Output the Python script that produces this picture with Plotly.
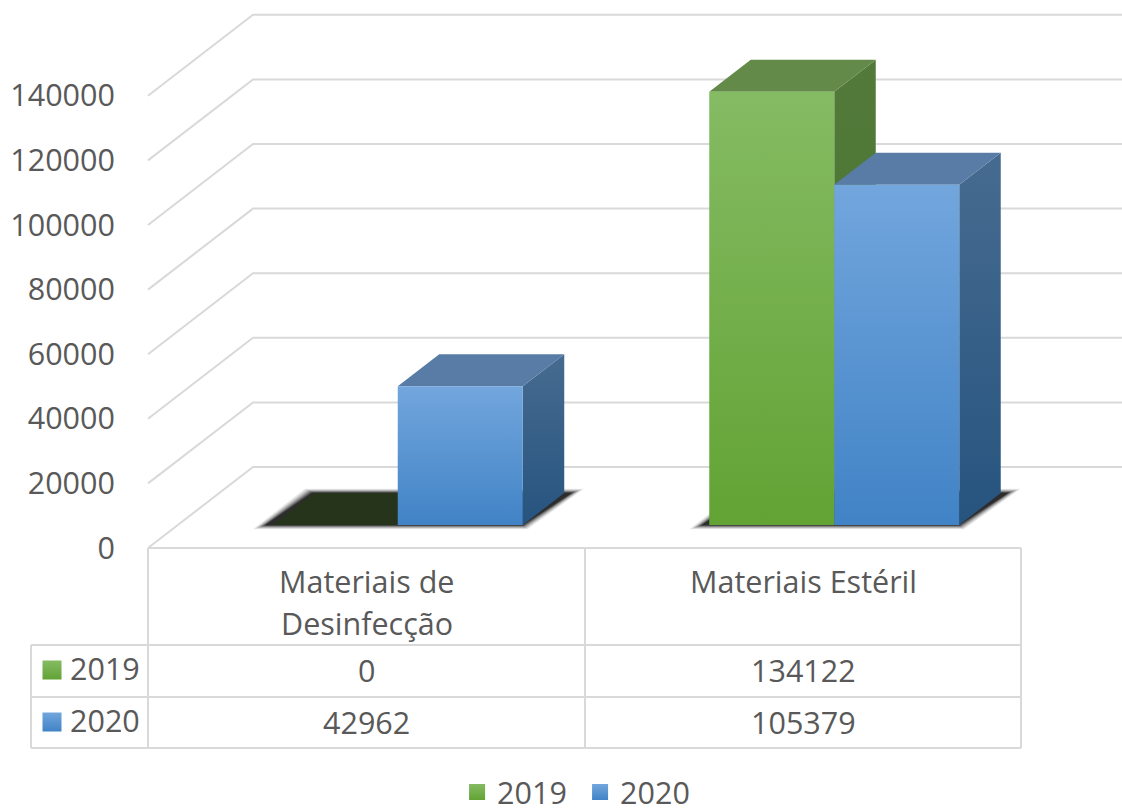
import plotly.graph_objects as go

categories = [["Materiais de", "Desinfecção"], ["Materiais Estéril"]]
series_names = ["2019", "2020"]
values_2019 = [0, 134122]
values_2020 = [42962, 105379]
y_ticks = [0, 20000, 40000, 60000, 80000, 100000, 120000, 140000]

W, H = 1122, 812
PX_X0, PX_CAT = 148.0, 436.5      # pixel of category 0 left edge, pixels per category
PX_Y0, PX_PER_UNIT = 548.0, 64.6 / 20000
FONT = "Open Sans"
TXT = "#595959"
GRID = "#d9d9d9"
FS = 30.5

def xpx(p):
    return (p - PX_X0) / PX_CAT
def ypx(p):
    return (PX_Y0 - p) / PX_PER_UNIT

DEPTH_X = 105 / PX_CAT
DEPTH_Y = 81 / PX_PER_UNIT
BAR_W = 125 / PX_CAT
GROUP_LEFT = 0.2175
D_FRONT, D_BACK = 23 / 81, 55 / 81

def proj(x, v, d):
    return x + d * DEPTH_X, v + d * DEPTH_Y

fig = go.Figure()

def poly(points, top, bottom=None, opacity=None):
    xs = [p[0] for p in points] + [points[0][0]]
    ys = [p[1] for p in points] + [points[0][1]]
    kw = {}
    if bottom is None:
        kw["fillcolor"] = top
    else:
        kw["fillgradient"] = dict(type="vertical", colorscale=[[0, bottom], [1, top]])
    fig.add_trace(go.Scatter(x=xs, y=ys, mode="lines", fill="toself", line=dict(width=0),
                             showlegend=False, hoverinfo="skip", opacity=opacity, **kw))

# walls and floor gridlines
for v in y_ticks:
    bx, by = proj(0, v, 1)
    fig.add_trace(go.Scatter(x=[0, bx, xpx(W)], y=[v, by, by], mode="lines",
                             line=dict(color=GRID, width=2), showlegend=False, hoverinfo="skip"))

# blurred floor shadow under each category's bars
for c in range(2):
    left = c + GROUP_LEFT
    right = left + 2 * BAR_W
    off = 8 / PX_CAT
    for grow, alpha in [(12, 0.07), (10, 0.09), (8, 0.12), (6, 0.16), (4, 0.22), (2, 0.32), (0, 0.45)]:
        g = grow / PX_CAT
        gv = (grow + 1) / PX_PER_UNIT * 0.33
        a = proj(left - off - g, -gv, D_FRONT)
        b = proj(right + g * 0.4, -gv, D_FRONT)
        cc = proj(right + off + g, gv, D_BACK)
        dd = proj(left - off * 0.3 - g * 0.6, gv, D_BACK)
        poly([a, b, cc, dd], "rgba(0,0,0,%g)" % alpha)

STYLE = {
    "2019": dict(front=("#85bb63", "#62a334"), top="#638a48", side=("#537a3a", "#44702a")),
    "2020": dict(front=("#72a6dd", "#4183c6"), top="#587ca6", side=("#476b90", "#26547f")),
}

def bar(x0, v, st):
    x1 = x0 + BAR_W
    f = [proj(x0, 0, D_FRONT), proj(x1, 0, D_FRONT), proj(x1, v, D_FRONT), proj(x0, v, D_FRONT)]
    t = [proj(x0, v, D_FRONT), proj(x1, v, D_FRONT), proj(x1, v, D_BACK), proj(x0, v, D_BACK)]
    s = [proj(x1, 0, D_FRONT), proj(x1, 0, D_BACK), proj(x1, v, D_BACK), proj(x1, v, D_FRONT)]
    if v == 0:
        poly(t, "#25341a")
        return
    poly(s, st["side"][0], st["side"][1])
    poly(t, st["top"])
    poly(f, st["front"][0], st["front"][1])

for c in range(2):
    bar(c + GROUP_LEFT, values_2019[c], STYLE["2019"])
    bar(c + GROUP_LEFT + BAR_W, values_2020[c], STYLE["2020"])

# data-table keys and legend entries
for name, key_y in zip(series_names, [670, 722]):
    st = STYLE[name]
    marker = dict(symbol="square", size=19, color=st["front"][0],
                  gradient=dict(type="vertical", color=st["front"][1]), line=dict(width=0))
    fig.add_trace(go.Scatter(x=[xpx(52)], y=[ypx(key_y)], mode="markers", marker=marker,
                             showlegend=False, hoverinfo="skip"))
    fig.add_trace(go.Scatter(x=[None], y=[None], mode="markers", marker=marker, name=name,
                             showlegend=True))

# table grid
shapes = []
def seg(x0, y0, x1, y1):
    shapes.append(dict(type="line", xref="x", yref="y", x0=xpx(x0), x1=xpx(x1), y0=ypx(y0), y1=ypx(y1),
                       line=dict(color=GRID, width=2)))
seg(148, 548, 1021, 548)
seg(31, 645, 1021, 645)
seg(31, 697, 1021, 697)
seg(31, 748, 1021, 748)
seg(31, 645, 31, 748)
seg(148, 548, 148, 748)
seg(585, 548, 585, 748)
seg(1021, 548, 1021, 748)

# table text
anns = []
def label(text, px, py, anchor="center", yanchor="middle"):
    anns.append(dict(text=text, x=xpx(px), y=ypx(py), xref="x", yref="y", showarrow=False,
                     xanchor=anchor, yanchor=yanchor, align="center",
                     font=dict(family=FONT, size=FS, color=TXT)))
for c, lines in enumerate(categories):
    for i, line in enumerate(lines):
        label(line, 366.5 + c * PX_CAT, 581 + i * 42)
for name, py in zip(series_names, [668, 720]):
    label(name, 105, py)
for c in range(2):
    label(str(values_2019[c]), 366.5 + c * PX_CAT, 670)
    label(str(values_2020[c]), 366.5 + c * PX_CAT, 722)

fig.update_layout(
    width=W, height=H, margin=dict(l=0, r=0, t=0, b=0, autoexpand=False),
    paper_bgcolor="white", plot_bgcolor="white",
    shapes=shapes, annotations=anns,
    font=dict(family=FONT, size=FS, color=TXT),
    xaxis=dict(range=[xpx(0), xpx(W)], visible=False, domain=[0, 1], fixedrange=True),
    yaxis=dict(range=[ypx(H), ypx(0)], anchor="free", position=PX_X0 / W, tickmode="array",
               tickvals=y_ticks, ticktext=[str(v) for v in y_ticks], showgrid=False, zeroline=False,
               showline=False, ticks="outside", ticklen=27, tickcolor="rgba(0,0,0,0)",
               tickfont=dict(family=FONT, size=FS, color=TXT), fixedrange=True),
    legend=dict(orientation="h", x=0.517, xanchor="center",
                y=0.0245, yanchor="middle", entrywidth=78, entrywidthmode="pixels",
                font=dict(family=FONT, size=FS, color=TXT), bgcolor="rgba(0,0,0,0)"),
    showlegend=True,
    hovermode=False,
)

fig.write_html("out.html", config={"displayModeBar": False},
               post_script="document.body.style.margin='0';")
